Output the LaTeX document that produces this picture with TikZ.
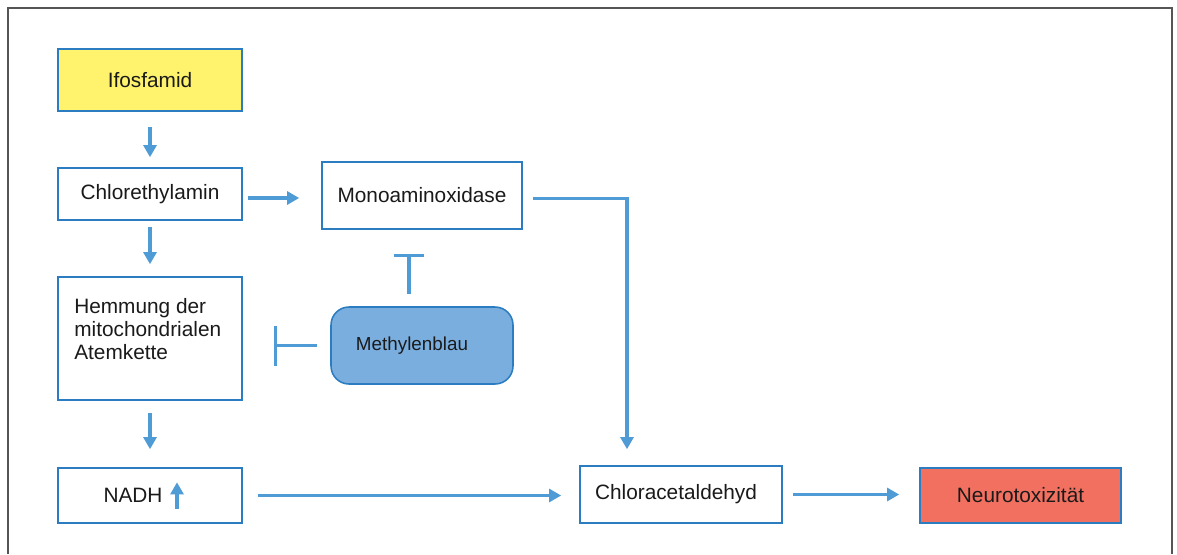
\documentclass[tikz,border=0pt]{standalone}
\usepackage{fontspec}
\setmainfont{Liberation Sans}
\usepackage{tikz}
\usetikzlibrary{arrows.meta,positioning,calc}
\definecolor{flow}{HTML}{4F9BD6}
\definecolor{edge}{HTML}{2B7CC0}
\definecolor{lemon}{HTML}{FFF36E}
\definecolor{salmon}{HTML}{F27060}
\definecolor{sky}{HTML}{7AAEDF}
\definecolor{frame}{HTML}{555555}
\definecolor{ink}{HTML}{1A1A1A}
\tikzset{arr/.style={-{Triangle[length=3mm,width=3.2mm]},line width=2.3pt,draw=flow},
  block/.style={-{Bar[width=1cm]},line width=2.2pt,draw=flow},
  box/.style={draw=edge,line width=1.1pt,fill=white,inner sep=0pt,text=ink,
    font=\fontsize{14.8}{16}\selectfont,minimum width=4.6cm},
  agentbox/.style={box,rounded corners=4.5mm,fill=sky,font=\fontsize{13.4}{16}\selectfont}}

\begin{document}
\begin{tikzpicture}
\useasboundingbox (0,0) rectangle (29.425,-13.85);
\draw[frame,line width=1.2pt] (0.2,-13.85) |- (29.3,-0.2) -- (29.3,-13.85);
\node[box,fill=lemon,minimum height=1.55cm] (ifos) at (3.75,-2.0) {Ifosfamid};
\node[box,minimum height=1.3cm] (chlor) at (3.75,-4.85) {Chlorethylamin};
\node[box,minimum width=5cm,minimum height=1.675cm] (mao) at (10.55,-4.8875) {Monoaminoxidase};
\node[box,minimum height=3.075cm,label={[anchor=north west,align=left,inner sep=0pt,text=ink,font=\fontsize{14.8}{16.2}\selectfont,xshift=0.42cm,yshift=-0.55cm]north west:Hemmung der\\mitochondrialen\\Atemkette}] (hemm) at (3.75,-8.4625) {};
\node[agentbox,minimum width=4.55cm,minimum height=1.925cm] (meth) at (10.55,-8.6375) {\hspace*{-0.5cm}Methylenblau};
\node[box,minimum height=1.375cm] (nadh) at (3.75,-12.3875) {NADH\hspace*{0.85cm}};
\node[box,minimum width=5.05cm,minimum height=1.425cm] (acet) at (17.025,-12.3625) {Chloracetaldehyd\hspace*{0.25cm}};
\node[box,fill=salmon,minimum width=5.025cm,minimum height=1.375cm] (neuro) at (25.5125,-12.3875) {Neurotoxizität};
% up arrow next to NADH
\draw[arr] ([xshift=0.675cm,yshift=-0.33cm]nadh.center) -- ([xshift=0.675cm,yshift=0.33cm]nadh.center);
\draw[arr,shorten <=0.375cm,shorten >=0.25cm] (ifos.south) -- (chlor.north);
\draw[arr,shorten <=0.15cm,shorten >=0.3cm] (chlor.south) -- (hemm.north);
\draw[arr,shorten <=0.3cm,shorten >=0.45cm] (hemm.south) -- (nadh.north);
\draw[arr,shorten <=0.125cm,shorten >=0.55cm] ([yshift=-0.1cm]chlor.east) -- ([yshift=-0.1cm]chlor.east -| mao.west);
\draw[arr,shorten <=0.25cm,shorten >=0.4cm] ([yshift=-0.075cm]mao.east) -| ([xshift=-1.35cm]acet.north);
\draw[arr,shorten <=0.375cm,shorten >=0.45cm] (nadh.east) -- (nadh.east -| acet.west);
\draw[arr,shorten <=0.25cm,shorten >=0.5cm] (acet.east) -- (acet.east -| neuro.west);
\draw[block,shorten <=0.325cm,shorten >=0.775cm] (meth.west) -- (meth.west -| hemm.east);
\draw[block,-{Bar[width=0.75cm]},shorten <=0.3cm,shorten >=0.6cm] ([xshift=-0.325cm]meth.north) -- ([xshift=-0.325cm]mao.south);
\end{tikzpicture}
\end{document}
